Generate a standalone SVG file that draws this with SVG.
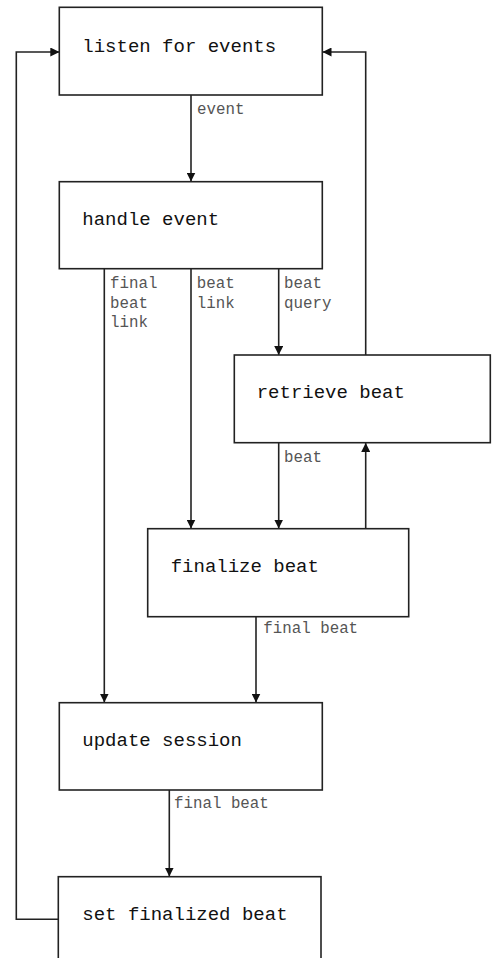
<svg xmlns="http://www.w3.org/2000/svg" width="493" height="958" viewBox="0 0 493 958">
<style>
.box{fill:#fff;stroke:#222;stroke-width:1.6}
.nt{font-family:"Liberation Mono",monospace;font-size:19px;fill:#111}
.lb{font-family:"Liberation Mono",monospace;font-size:15.8px;fill:#555}
.e{fill:none;stroke:#222;stroke-width:1.6}
</style>
<defs>
<marker id="ah" viewBox="0 0 10 10" refX="10" refY="5" markerWidth="9" markerHeight="9" markerUnits="userSpaceOnUse" orient="auto">
<path d="M0,0 L10,5 L0,10 z" fill="#111"/>
</marker>
</defs>
<rect width="493" height="958" fill="#fff"/>
<g id="connectors">
<path class="e" d="M191,95 V181.5" marker-end="url(#ah)"/>
<path class="e" d="M104.3,268.7 V702.5" marker-end="url(#ah)"/>
<path class="e" d="M191,268.7 V528.5" marker-end="url(#ah)"/>
<path class="e" d="M278.7,268.7 V355" marker-end="url(#ah)"/>
<path class="e" d="M278.7,442.7 V528.5" marker-end="url(#ah)"/>
<path class="e" d="M365.7,528.7 V442.9" marker-end="url(#ah)"/>
<path class="e" d="M365.7,355 V52 H322.5" marker-end="url(#ah)"/>
<path class="e" d="M256,616.7 V702.5" marker-end="url(#ah)"/>
<path class="e" d="M169.3,790 V876.5" marker-end="url(#ah)"/>
<path class="e" d="M60,919.3 H16.3 V52 H59.3" marker-end="url(#ah)"/>
<text class="lb" x="197" y="114">event</text>
<text class="lb" x="110" y="288">final</text>
<text class="lb" x="110" y="307.5">beat</text>
<text class="lb" x="110" y="326.5">link</text>
<text class="lb" x="196.7" y="288">beat</text>
<text class="lb" x="196.7" y="307.5">link</text>
<text class="lb" x="284" y="288">beat</text>
<text class="lb" x="284" y="307.5">query</text>
<text class="lb" x="284" y="461.5">beat</text>
<text class="lb" x="263.3" y="632.5">final beat</text>
<text class="lb" x="174" y="808">final beat</text>
</g>
<g id="n1"><rect class="box" x="59.3" y="7.3" width="263" height="87.7"/><text class="nt" x="82.3" y="52">listen for events</text></g>
<g id="n2"><rect class="box" x="59.3" y="181.7" width="263" height="87"/><text class="nt" x="82.3" y="225">handle event</text></g>
<g id="n3"><rect class="box" x="234.3" y="355" width="256" height="87.7"/><text class="nt" x="256.7" y="398.3">retrieve beat</text></g>
<g id="n4"><rect class="box" x="147.7" y="528.7" width="261" height="88"/><text class="nt" x="170.7" y="572.3">finalize beat</text></g>
<g id="n5"><rect class="box" x="59.3" y="702.7" width="263" height="87.3"/><text class="nt" x="82.3" y="746">update session</text></g>
<g id="n6"><rect class="box" x="58.3" y="876.7" width="262.7" height="88"/><text class="nt" x="82.3" y="920">set finalized beat</text></g>
</svg>
